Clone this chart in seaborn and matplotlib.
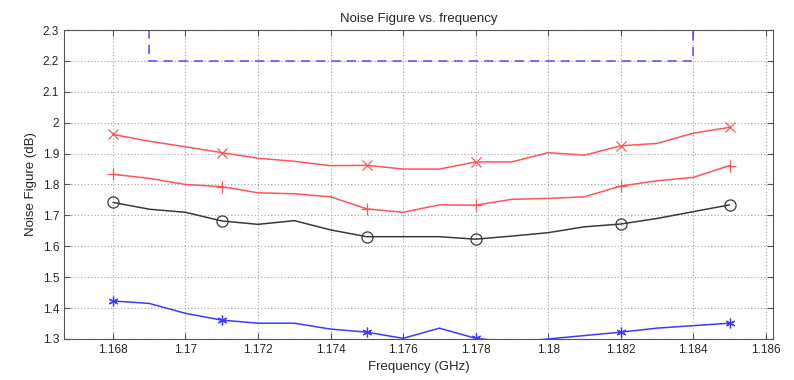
import matplotlib
matplotlib.use("Agg")
import matplotlib.pyplot as plt
import numpy as np
import pandas as pd
import seaborn as sns

# frequency samples (GHz)
freq = [1.168, 1.169, 1.170, 1.171, 1.172, 1.173, 1.174, 1.175, 1.176,
        1.177, 1.178, 1.179, 1.180, 1.181, 1.182, 1.183, 1.184, 1.185]

nf_x = [1.962, 1.94, 1.922, 1.903, 1.885, 1.875, 1.861, 1.862, 1.850,
        1.850, 1.873, 1.873, 1.903, 1.895, 1.925, 1.933, 1.966, 1.985]
nf_plus = [1.833, 1.82, 1.80, 1.793, 1.773, 1.77, 1.76, 1.721, 1.710,
           1.734, 1.733, 1.752, 1.755, 1.760, 1.795, 1.812, 1.823, 1.861]
nf_o = [1.742, 1.72, 1.71, 1.682, 1.671, 1.683, 1.653, 1.631, 1.631,
        1.631, 1.623, 1.633, 1.644, 1.663, 1.672, 1.69, 1.712, 1.734]
nf_star = [1.423, 1.415, 1.383, 1.361, 1.351, 1.351, 1.332, 1.322, 1.302,
           1.335, 1.302, 1.29, 1.300, 1.311, 1.322, 1.335, 1.343, 1.351]

# spec mask
spec_f = [1.169, 1.169, 1.184, 1.184]
spec_nf = [2.4, 2.2, 2.2, 2.4]

marker_idx = [0, 3, 7, 10, 14, 17]

xticks = np.round(np.arange(1.168, 1.1861, 0.002), 3)
xtick_labels = ["1.168", "1.17", "1.172", "1.174", "1.176", "1.178",
                "1.18", "1.182", "1.184", "1.186"]
yticks = np.round(np.arange(1.3, 2.31, 0.1), 1)
ytick_labels = ["1.3", "1.4", "1.5", "1.6", "1.7", "1.8", "1.9", "2", "2.1", "2.2", "2.3"]

sns.set_style("ticks")
plt.rcParams["font.family"] = ["Liberation Sans", "DejaVu Sans"]

fig = plt.figure(figsize=(7.94, 3.8), dpi=100)
ax = fig.add_axes([0.0806, 0.108, 0.893, 0.813])

df = pd.DataFrame({"f": freq, "x": nf_x, "plus": nf_plus, "o": nf_o, "star": nf_star})

series = [
    ("x", "#ff5555", "x", 6.5),
    ("plus", "#ff5555", "+", 8),
    ("o", "#3a3a3a", "o", 8),
    ("star", "#3b3bff", (6, 2, 0), 7),
]
for col, color, mk, ms in series:
    sns.lineplot(data=df, x="f", y=col, ax=ax, color=color, lw=1.1,
                 marker=mk, markevery=marker_idx, markersize=ms,
                 markerfacecolor="none", markeredgecolor=color, markeredgewidth=0.9)

sns.lineplot(x=spec_f, y=spec_nf, ax=ax, color="#4a4aff", lw=1.1,
             linestyle=(0, (6, 4)), sort=False, estimator=None)

ax.set_xlim(1.16665, 1.1862)
ax.set_ylim(1.3, 2.3)
ax.set_xticks(xticks)
ax.set_xticklabels(xtick_labels)
ax.set_yticks(yticks)
ax.set_yticklabels(ytick_labels)
ax.grid(True, linestyle=(0, (1, 2)), color="#a0a0a0", lw=0.8)
ax.tick_params(direction="in", length=4, labelsize=8.5, top=True, right=True,
               color="#555555")
for s in ax.spines.values():
    s.set_color("#555555")
    s.set_linewidth(0.8)

ax.set_title("Noise Figure vs. frequency", fontsize=9.5, pad=6)
ax.set_xlabel("Frequency (GHz)", fontsize=9.5, labelpad=4)
ax.set_ylabel("Noise Figure (dB)", fontsize=9.5, labelpad=4)

fig.savefig("out.png", dpi=100)
